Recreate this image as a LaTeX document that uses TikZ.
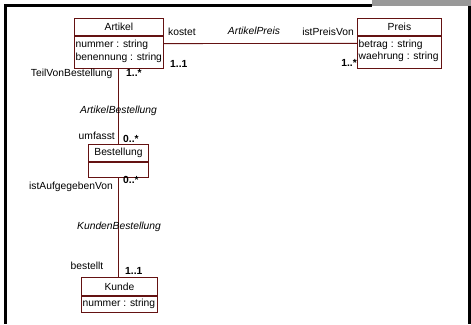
\documentclass[tikz,border=0pt]{standalone}
\usepackage{fontspec}
\setmainfont{Liberation Sans}
\definecolor{umlrot}{RGB}{100,18,18}
\definecolor{rahmengrau}{RGB}{153,153,153}
\newcommand{\klassenschrift}{\fontsize{10.3}{12.7}\selectfont}
\newcommand{\rollenschrift}{\fontsize{10.3}{12}\selectfont}
\newcommand{\multschrift}{\fontsize{10.3}{12}\selectfont\bfseries}
\begin{document}
\begin{tikzpicture}[x=1pt,y=-1pt,
  umlline/.style={draw=umlrot, line width=0.9pt},
  kopf/.style={umlline, fill=white, anchor=north west, minimum width=#1,
    minimum height=17pt, inner sep=0pt, font=\klassenschrift},
  rumpf/.style={umlline, fill=white, anchor=north west, minimum width=#1,
    inner sep=0pt},
  attribute/.style={anchor=west, align=left, inner sep=0pt, font=\klassenschrift},
  rolle/.style={font=\rollenschrift, inner sep=0pt},
  mult/.style={font=\multschrift, inner sep=0pt},
  assozname/.style={font=\rollenschrift\itshape, inner sep=0pt},
  rahmen/.style={line width=3pt, draw=black}]
\useasboundingbox (0,0) rectangle (471,324);

% page frame
\fill[rahmengrau] (372,0) rectangle (471,6);
\draw[rahmen] (4,5.5) -- (372,5.5);
\draw[rahmen] (5.5,4) -- (5.5,324);
\draw[rahmen] (469.5,6) -- (469.5,324);

% classes: name compartment, attribute compartment, attribute text
\node[kopf=89pt] (artikel) at (74,18) {Artikel};
\node[rumpf=89pt, minimum height=32.5pt] (artikelattr) at (artikel.south west) {};
\node[attribute] (artikeltext) at ([xshift=1.5pt,yshift=1.5pt]artikelattr.west)
  {nummer : string\\benennung : string};

\node[kopf=84pt] (preis) at (357,18) {Preis};
\node[rumpf=84pt, minimum height=32pt] (preisattr) at (preis.south west) {};
\node[attribute] (preistext) at ([xshift=1.5pt,yshift=1.5pt]preisattr.west)
  {betrag : string\\waehrung : string};

\node[kopf=60pt] (bestellung) at (88,144) {Bestellung};
\node[rumpf=60pt, minimum height=15pt] (bestellungattr) at (bestellung.south west) {};

\node[kopf=76pt, minimum height=18pt] (kunde) at (81,277) {Kunde};
\node[rumpf=76pt, minimum height=16pt] (kundeattr) at (kunde.south west) {};
\node[attribute] (kundetext) at ([xshift=1.5pt,yshift=1pt]kundeattr.west)
  {nummer : string};

% associations
\draw[umlline] ([yshift=9pt]artikelattr.east) -- ([yshift=9pt]preisattr.west);
\draw[umlline] (bestellung.north |- artikelattr.south) -- (bestellung.north);
\draw[umlline] (bestellungattr.south) -- (bestellungattr.south |- kunde.north);

% ArtikelPreis
\node[rolle, anchor=west] (kostet) at (168,32) {kostet};
\node[assozname] (artikelpreis) at (254,30.5) {ArtikelPreis};
\node[rolle, anchor=east] (istpreisvon) at (354,32) {istPreisVon};
\node[mult, anchor=west] (m11a) at (170,64) {1..1};
\node[mult, anchor=east] (m1na) at (357,63) {1..*};

% ArtikelBestellung
\node[rolle, anchor=east] (teilvon) at (112.5,74) {TeilVonBestellung};
\node[mult, anchor=west] (m1nb) at (126,73) {1..*};
\node[assozname] (artikelbest) at (118.5,111) {ArtikelBestellung};
\node[rolle, anchor=east] (umfasst) at (115,136) {umfasst};
\node[mult, anchor=west] (m0na) at (123,139) {0..*};

% KundenBestellung
\node[mult, anchor=west] (m0nb) at (123,180) {0..*};
\node[rolle, anchor=east] (aufgegeben) at (113,187) {istAufgegebenVon};
\node[assozname] (kundenbest) at (119,227) {KundenBestellung};
\node[rolle, anchor=east] (bestellt) at (103.5,266) {bestellt};
\node[mult, anchor=west] (m11b) at (125,271) {1..1};
\end{tikzpicture}
\end{document}
